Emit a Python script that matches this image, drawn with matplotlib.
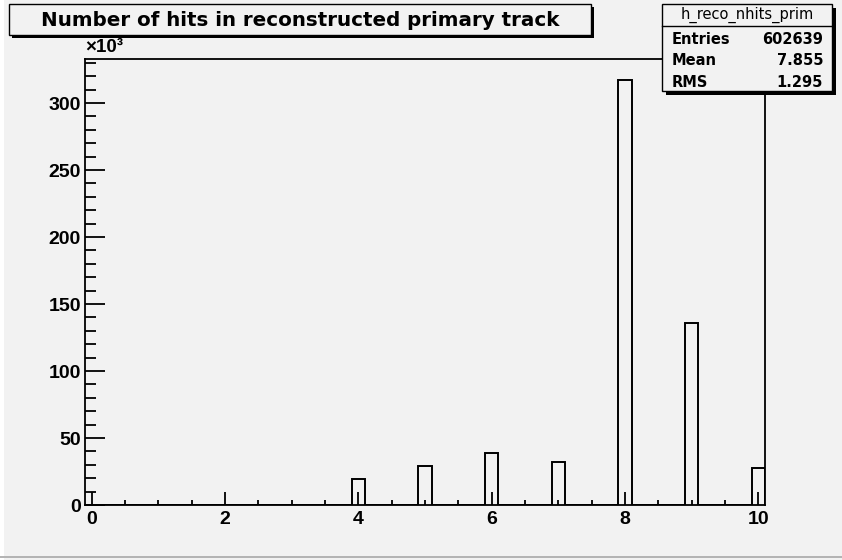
# Number of hits in reconstructed primary track (ROOT-style histogram)

import numpy as np
import matplotlib.pyplot as plt
from matplotlib.patches import Rectangle
from matplotlib.lines import Line2D
from matplotlib.ticker import MultipleLocator

# data (counts in units of 10^3)
nhits = [0, 1, 2, 3, 4, 5, 6, 7, 8, 9, 10]
counts_k = [0, 0, 0, 0, 19.4, 28.9, 39.0, 32.1, 317.0, 135.6, 27.8]
bin_width = 0.2
x_lo, x_hi = -0.1, 10.1

title = "Number of hits in reconstructed primary track"
hist_name = "h_reco_nhits_prim"
stat_names = ["Entries", "Mean", "RMS"]
stat_values = ["602639", "7.855", "1.295"]

W, H = 842, 560
bg = "#f2f2f2"

# histogram bins
edges = np.linspace(x_lo, x_hi, int(round((x_hi - x_lo) / bin_width)) + 1)
values = np.zeros(len(edges) - 1)
for n, c in zip(nhits, counts_k):
    values[int(round((n - x_lo) / bin_width - 0.5))] = c

fig = plt.figure(figsize=(W / 100, H / 100), dpi=100, facecolor=bg)


def box(x0, y0, x1, y1):
    # pixel box (top-left origin) -> figure fraction rect
    return (x0 / W, 1 - y1 / H), (x1 - x0) / W, (y1 - y0) / H


ax = fig.add_axes([85 / W, 1 - 505 / H, 680 / W, 446 / H], facecolor=bg)
ax.stairs(values, edges, color="black", lw=1.4, baseline=0)
ax.set_xlim(x_lo, x_hi)
ax.set_ylim(0, max(counts_k) * 1.05)

for s in ax.spines.values():
    s.set_linewidth(1.3)

ax.xaxis.set_major_locator(MultipleLocator(2))
ax.xaxis.set_minor_locator(MultipleLocator(0.5))
ax.yaxis.set_major_locator(MultipleLocator(50))
ax.yaxis.set_minor_locator(MultipleLocator(10))
ax.tick_params(axis="y", which="major", direction="in", length=14.5, width=1.3, pad=3)
ax.tick_params(axis="y", which="minor", direction="in", length=8, width=1.3)
ax.tick_params(axis="x", which="major", direction="in", length=9.5, width=1.3, pad=4)
ax.tick_params(axis="x", which="minor", direction="in", length=3.8, width=1.3)
for lab in ax.get_xticklabels() + ax.get_yticklabels():
    lab.set_fontfamily("Liberation Sans")
    lab.set_fontweight("bold")
    lab.set_fontsize(14)

fig.text(85 / W, 1 - 48 / H, "×10³", fontsize=13.5, fontweight="bold",
         family="Liberation Sans", ha="left", va="center")

# canvas bevel
fig.add_artist(Rectangle((0, 0), 4 / W, 1, transform=fig.transFigure,
                         facecolor="white", edgecolor="none"))
fig.add_artist(Rectangle(*box(0, 556, W, 558), transform=fig.transFigure,
                         facecolor="#b4b4b4", edgecolor="none"))

# title box with shadow
fig.add_artist(Rectangle(*box(12, 7, 594, 38), transform=fig.transFigure,
                         facecolor="black", edgecolor="none"))
fig.add_artist(Rectangle(*box(9, 4, 591, 35), transform=fig.transFigure,
                         facecolor=bg, edgecolor="black", lw=1))
fig.text(300 / W, 1 - 20 / H, title, fontsize=14.3, fontweight="bold",
         family="DejaVu Sans", ha="center", va="center")

# stats box with shadow
fig.add_artist(Rectangle(*box(666, 8, 836, 95), transform=fig.transFigure,
                         facecolor="black", edgecolor="none"))
fig.add_artist(Rectangle(*box(662, 4, 832, 91), transform=fig.transFigure,
                         facecolor=bg, edgecolor="black", lw=1))
fig.add_artist(Line2D([662 / W, 832 / W], [1 - 26 / H, 1 - 26 / H],
                      transform=fig.transFigure, color="black", lw=1))
fig.text(747 / W, 1 - 15 / H, hist_name, fontsize=10.5, family="DejaVu Sans",
         ha="center", va="center")
for i, (name, val) in enumerate(zip(stat_names, stat_values)):
    y = 1 - (39.5 + 21.3 * i) / H
    fig.text(672 / W, y, name, fontsize=10.5, fontweight="bold",
             family="DejaVu Sans", ha="left", va="center")
    fig.text(823 / W, y, val, fontsize=10.5, fontweight="bold",
             family="DejaVu Sans", ha="right", va="center")

fig.savefig("out.png", dpi=100, facecolor=bg)
